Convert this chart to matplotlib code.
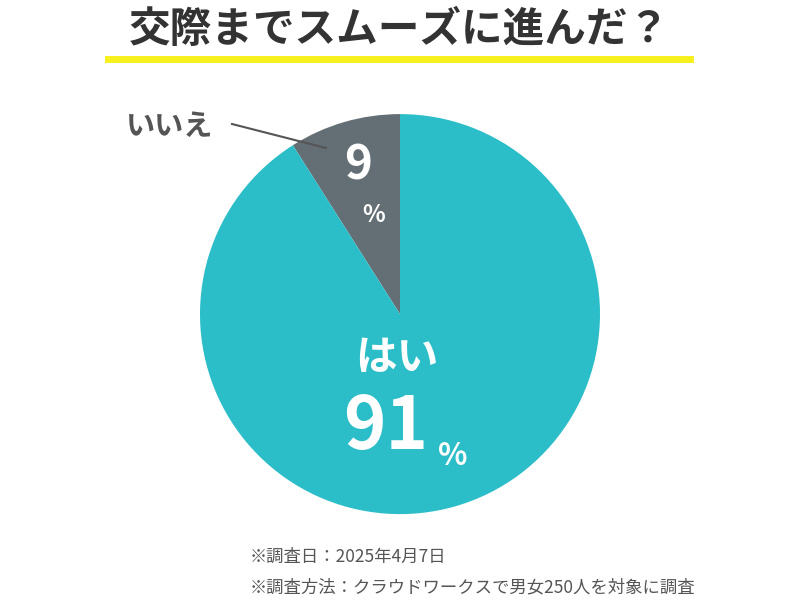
import matplotlib
matplotlib.use("Agg")
import matplotlib.pyplot as plt

plt.rcParams['font.family'] = ['Noto Sans CJK JP', 'DejaVu Sans']

labels = ["いいえ", "はい"]
values = [9, 91]
colors = ["#646e75", "#2bbdc8"]

W, H = 800, 600
fig = plt.figure(figsize=(8, 6), dpi=100)

def px(x, y):
    return x / W, 1 - y / H

ax = fig.add_axes([0.25, 0.143, 0.5, 0.667])
ax.pie(values, colors=colors, startangle=90, counterclock=True, radius=1)
ax.set_xlim(-1, 1)
ax.set_ylim(-1, 1)
ax.set_aspect("equal")

# title and underline
fig.text(*px(399, 30), "交際までスムーズに進んだ？", ha="center", va="center",
         fontsize=30, fontweight="bold", color="#333333")
fig.add_artist(plt.Line2D([108 / W, 690 / W], [1 - 59 / H] * 2, color="#f7f01c", lw=5))

# slice labels
fig.text(*px(170, 126), labels[0], ha="center", va="center", fontsize=21,
         fontweight="bold", color="#555555")
fig.add_artist(plt.Line2D([232 / W, 326 / W], [1 - 124 / H, 1 - 148 / H], color="#555555", lw=1.5))
fig.text(*px(358, 165), str(values[0]), ha="center", va="center", fontsize=34,
         fontweight="bold", color="white")
fig.text(*px(374, 215), "%", ha="center", va="center", fontsize=17,
         fontweight="bold", color="white")

fig.text(*px(397, 358), labels[1], ha="center", va="center", fontsize=30,
         fontweight="bold", color="white")
fig.text(*px(386, 428), str(values[1]), ha="center", va="center", fontsize=52,
         fontweight="bold", color="white")
fig.text(*px(453, 456), "%", ha="center", va="center", fontsize=22,
         fontweight="bold", color="white")

# notes
fig.text(*px(250, 557), "※調査日：2025年4月7日", ha="left", va="center",
         fontsize=12.5, color="#555555")
fig.text(*px(250, 587), "※調査方法：クラウドワークスで男女250人を対象に調査", ha="left",
         va="center", fontsize=12.5, color="#555555")

fig.savefig("out.png", dpi=100)
